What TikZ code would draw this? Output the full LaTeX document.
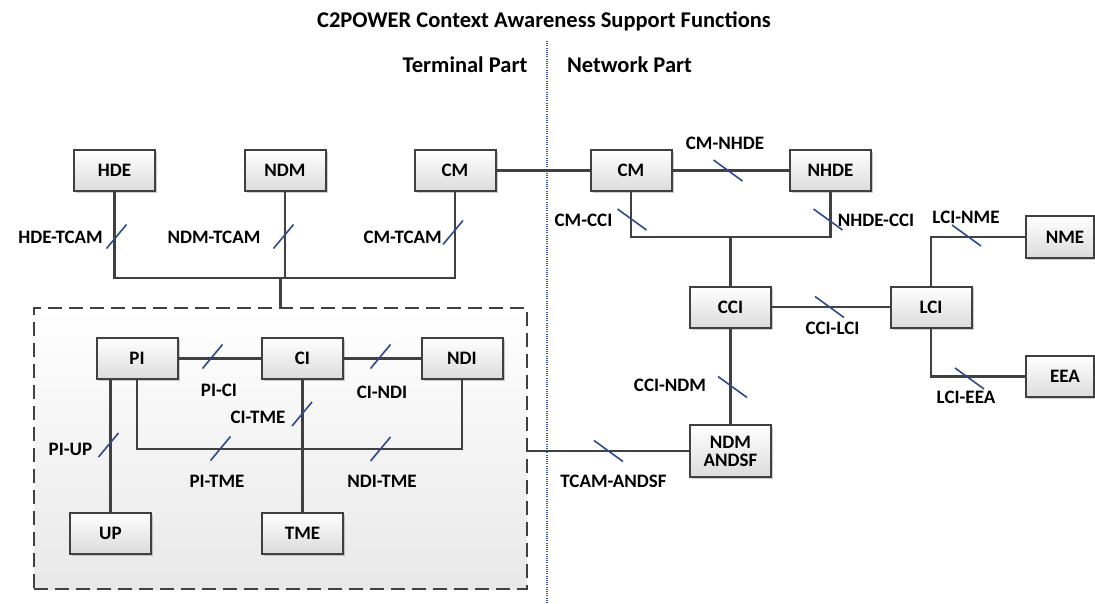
\documentclass[tikz,border=0pt]{standalone}
\usepackage{fontspec}
\setmainfont{Carlito}
\usetikzlibrary{shadows}

\definecolor{linegray}{HTML}{404040}
\definecolor{slashblue}{HTML}{2F4A8A}
\definecolor{divblue}{HTML}{3A58A8}

\tikzset{
  fbox/.style={draw=linegray, line width=2pt, rectangle,
    top color=white, bottom color=black!14,
    minimum width=81pt, minimum height=41pt, inner sep=0pt,
    align=center, font=\fontsize{19}{21}\selectfont\bfseries,
    drop shadow={shadow xshift=2.2pt, shadow yshift=-2.2pt, opacity=0.4}},
  conn/.style={draw=linegray, line width=2.2pt},
  lbl/.style={font=\fontsize{19}{21}\selectfont\bfseries, inner sep=0pt},
  hdr/.style={font=\fontsize{22.5}{24}\selectfont\bfseries, inner sep=0pt},
  slashF/.pic={\draw[slashblue, line width=1.6pt] (-10,12) -- (10,-12);},
  slashB/.pic={\draw[slashblue, line width=1.6pt] (-14.5,-10.5) -- (14.5,10.5);},
}

\begin{document}
\begin{tikzpicture}[x=1pt, y=-1pt]
\useasboundingbox (0,0) rectangle (1095,604);

% headings and the terminal / network divider
\node[hdr] (title) at (544,21) {C2POWER Context Awareness Support Functions};
\node[hdr] (tpart) at (465,65) {Terminal Part};
\node[hdr] (npart) at (629.5,65) {Network Part};
\coordinate (divtop) at (547,41);
\coordinate (divbot) at (547,604);
\draw[divblue, line width=1.1pt, dash pattern=on 1pt off 1.2pt] (divtop) -- (divbot);

% terminal aggregate (dashed frame)
\node[draw=linegray, line width=2.2pt, dash pattern=on 14pt off 7pt,
      top color=white, bottom color=black!9,
      minimum width=493pt, minimum height=281pt, inner sep=0pt]
      (term) at (280.5,448.5) {};

% terminal-side entities
\node[fbox] (hde) at (114.5,170.5) {HDE};
\node[fbox] (ndm) at (285,170.5) {NDM};
\node[fbox] (cmt) at (455,170.5) {CM};

\node[fbox] (pi)  at (137,358.5) {PI};
\node[fbox] (ci)  at (302.5,358.5) {CI};
\node[fbox] (ndi) at (462,358.5) {NDI};
\node[fbox] (up)  at (110.5,533) {UP};
\node[fbox] (tme) at (302.5,533) {TME};

% network-side entities
\node[fbox] (cmn)  at (631,170.5) {CM};
\node[fbox] (nhde) at (830.5,170.5) {NHDE};
\node[fbox] (cci)  at (730.5,307) {CCI};
\node[fbox] (lci)  at (931,307) {LCI};
\node[fbox, minimum width=68pt] (nme) at (1060,237) {\hspace*{10pt}NME};
\node[fbox, minimum width=68pt] (eea) at (1060,376.5) {\hspace*{10pt}EEA};
\node[fbox, minimum height=52pt] (andsf) at (730.5,451) {NDM\\[-3pt]ANDSF};

% bus levels
\coordinate (busT) at (0,278);
\coordinate (busN) at (0,237);
\coordinate (busI) at (0,449);

% terminal-side connectors
\draw[conn] (hde.south) -- (hde.south |- busT) -- (cmt.south |- busT) -- (cmt.south);
\draw[conn] (ndm.south) -- (ndm.south |- busT);
\draw[conn] (term.north) -- (term.north |- busT);
\draw[conn] (cmt.east) -- (cmn.west);

\draw[conn] (pi.east) -- (ci.west);
\draw[conn] (ci.east) -- (ndi.west);
\draw[conn] (pi.south) -- (pi.south |- busI) -- (ndi.south |- busI) -- (ndi.south);
\draw[conn] (up.north) -- (up.north |- pi.south);
\draw[conn] (ci.south) -- (tme.north);

% network-side connectors
\draw[conn] (cmn.east) -- (nhde.west);
\draw[conn] (cmn.south) -- (cmn.south |- busN) -- (nhde.south |- busN) -- (nhde.south);
\draw[conn] (cci.north) -- (cci.north |- busN);
\draw[conn] (cci.east) -- (lci.west);
\draw[conn] (lci.north) |- (nme.west);
\draw[conn] (lci.south) |- (eea.west);
\draw[conn] (cci.south) -- (andsf.north);
\draw[conn] (andsf.west) -- (andsf.west -| term.east);

% interface tick marks
\pic at (116.5,236.5) {slashF};
\pic at (283.5,236.5) {slashF};
\pic at (453,232.5)   {slashF};
\pic at (212.5,356.5) {slashF};
\pic at (380.5,356.5) {slashF};
\pic at (108.5,445)   {slashF};
\pic at (220.5,448.5) {slashF};
\pic at (380.5,449)   {slashF};
\pic at (302,414)     {slashF};

\pic at (632,219.5)   {slashB};
\pic at (828,219.5)   {slashB};
\pic at (728,170.5)   {slashB};
\pic at (829.5,307)   {slashB};
\pic at (966.5,235.5) {slashB};
\pic at (969.5,378.5) {slashB};
\pic at (732.5,387)   {slashB};
\pic at (608.5,451)   {slashB};

% interface labels
\node[lbl, anchor=east] (l1) at (103,237) {HDE-TCAM};
\node[lbl] (l2) at (214,237) {NDM-TCAM};
\node[lbl, anchor=east] (l3) at (442,237) {CM-TCAM};
\node[lbl] (l4) at (583.5,220) {CM-CCI};
\node[lbl] (l5) at (876,220) {NHDE-CCI};
\node[lbl] (l6) at (725,143) {CM-NHDE};
\node[lbl] (l7) at (966,217) {LCI-NME};
\node[lbl] (l8) at (832.5,328) {CCI-LCI};
\node[lbl] (l9) at (966,397) {LCI-EEA};
\node[lbl] (l10) at (670,385) {CCI-NDM};
\node[lbl] (l11) at (613.5,481) {TCAM-ANDSF};
\node[lbl] (l12) at (219,390) {PI-CI};
\node[lbl] (l13) at (382,392) {CI-NDI};
\node[lbl] (l14) at (258,417) {CI-TME};
\node[lbl] (l15) at (70.5,449) {PI-UP};
\node[lbl] (l16) at (217,481) {PI-TME};
\node[lbl] (l17) at (382,481) {NDI-TME};
\end{tikzpicture}
\end{document}
